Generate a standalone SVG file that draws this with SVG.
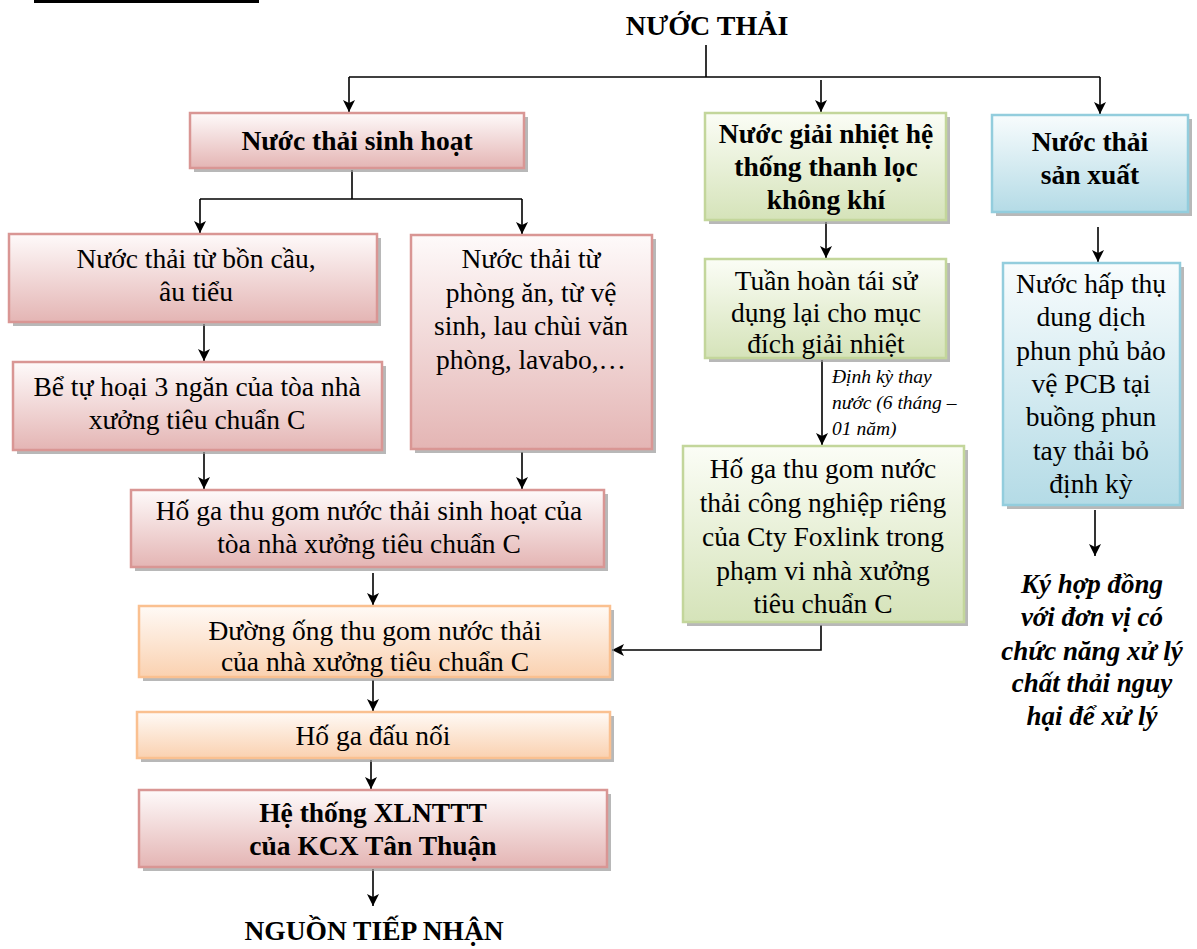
<svg xmlns="http://www.w3.org/2000/svg" width="1197" height="949" viewBox="0 0 1197 949">
<defs>
<linearGradient id="gPink" x1="0" y1="0" x2="0" y2="1"><stop offset="0" stop-color="#fefafa"/><stop offset="1" stop-color="#e4b5b4"/></linearGradient>
<linearGradient id="gGreen" x1="0" y1="0" x2="0" y2="1"><stop offset="0" stop-color="#fbfdf6"/><stop offset="1" stop-color="#d5e3b9"/></linearGradient>
<linearGradient id="gBlue" x1="0" y1="0" x2="0" y2="1"><stop offset="0" stop-color="#f8fcfd"/><stop offset="1" stop-color="#b4dbe6"/></linearGradient>
<linearGradient id="gOrange" x1="0" y1="0" x2="0" y2="1"><stop offset="0" stop-color="#fffaf6"/><stop offset="1" stop-color="#fad1b0"/></linearGradient>
<marker id="arr" markerUnits="userSpaceOnUse" markerWidth="13" markerHeight="12" refX="12" refY="6" orient="auto">
<path d="M0,0 L12,6 L0,12 L3,6 z" fill="#000"/>
</marker>
<style>
.t{font-family:"Liberation Serif","Times New Roman",serif;font-size:27.5px;fill:#000;text-anchor:middle}
.b{font-weight:bold}
.bi{font-weight:bold;font-style:italic;font-size:27px}
.ttl{font-size:28px}
.lab{font-family:"Liberation Serif","Times New Roman",serif;font-size:19.5px;font-style:italic;fill:#000}
.sh{fill:#9a9a9a;opacity:0.7}
.pink{fill:url(#gPink);stroke:#d99694;stroke-width:2.5}
.green{fill:url(#gGreen);stroke:#c3d69b;stroke-width:2.5}
.blue{fill:url(#gBlue);stroke:#93cddd;stroke-width:2.5}
.orange{fill:url(#gOrange);stroke:#fac090;stroke-width:2.5}
.c{fill:none;stroke:#000;stroke-width:1.6}
.ca{fill:none;stroke:#000;stroke-width:1.6;marker-end:url(#arr)}
</style>
</defs>
<rect x="34" y="0" width="225" height="3" fill="#000"/>

<g id="connectors">
<path class="c" d="M706,45 V77"/>
<path class="c" d="M349,77 H1100"/>
<path class="ca" d="M349,77 V112"/>
<path class="ca" d="M821,80 V112"/>
<path class="ca" d="M1100,77 V114"/>
<path class="c" d="M352,170 V199"/>
<path class="c" d="M200,199 H522"/>
<path class="ca" d="M200,199 V233"/>
<path class="ca" d="M522,199 V234"/>
<path class="ca" d="M826,222 V258"/>
<path class="ca" d="M1098,227 V262"/>
<path class="ca" d="M204,324 V361"/>
<path class="ca" d="M204,452 V489"/>
<path class="ca" d="M522,452 V489"/>
<path class="ca" d="M822,360 V445"/>
<path class="ca" d="M373,573 V605"/>
<path class="ca" d="M821,625 V650 H612"/>
<path class="ca" d="M373,680 V711"/>
<path class="ca" d="M371,760 V789"/>
<path class="ca" d="M373,869 V906"/>
<path class="ca" d="M1095,510 V556"/>
<text class="lab" x="832" y="383">Định kỳ thay</text>
<text class="lab" x="832" y="409">nước (6 tháng –</text>
<text class="lab" x="832" y="435">01 năm)</text>
</g>

<g id="title"><text class="t b ttl" x="707" y="35">NƯỚC THẢI</text></g>

<g id="n_sinhhoat">
<rect class="sh" x="194" y="117" width="334" height="55"/>
<rect class="pink" x="190" y="113" width="334" height="55"/>
<text class="t b" x="357" y="150">Nước thải sinh hoạt</text>
</g>

<g id="n_giainhiet">
<rect class="sh" x="709" y="117" width="241" height="107"/>
<rect class="green" x="705" y="113" width="241" height="107"/>
<text class="t b" x="826" y="143">Nước giải nhiệt hệ</text>
<text class="t b" x="826" y="176">thống thanh lọc</text>
<text class="t b" x="826" y="209">không khí</text>
</g>

<g id="n_sanxuat">
<rect class="sh" x="996" y="119" width="196" height="97"/>
<rect class="blue" x="992" y="115" width="196" height="97"/>
<text class="t b" x="1090" y="151">Nước thải</text>
<text class="t b" x="1090" y="184">sản xuất</text>
</g>

<g id="n_boncau">
<rect class="sh" x="13" y="238" width="368" height="88"/>
<rect class="pink" x="9" y="234" width="368" height="88"/>
<text class="t" x="196" y="268">Nước thải từ bồn cầu,</text>
<text class="t" x="196" y="301">âu tiểu</text>
</g>

<g id="n_phongan">
<rect class="sh" x="415" y="239" width="241" height="214"/>
<rect class="pink" x="411" y="235" width="241" height="214"/>
<text class="t" x="531" y="268">Nước thải từ</text>
<text class="t" x="531" y="302">phòng ăn, từ vệ</text>
<text class="t" x="531" y="335">sinh, lau chùi văn</text>
<text class="t" x="531" y="369">phòng, lavabo,…</text>
</g>

<g id="n_betuhoai">
<rect class="sh" x="17" y="366" width="369" height="88"/>
<rect class="pink" x="13" y="362" width="369" height="88"/>
<text class="t" x="197" y="396">Bể tự hoại 3 ngăn của tòa nhà</text>
<text class="t" x="197" y="429">xưởng tiêu chuẩn C</text>
</g>

<g id="n_tuanhoan">
<rect class="sh" x="709" y="263" width="241" height="99"/>
<rect class="green" x="705" y="259" width="241" height="99"/>
<text class="t" x="826" y="290">Tuần hoàn tái sử</text>
<text class="t" x="826" y="322">dụng lại cho mục</text>
<text class="t" x="826" y="353">đích giải nhiệt</text>
</g>

<g id="n_foxlink">
<rect class="sh" x="687" y="450" width="281" height="176"/>
<rect class="green" x="683" y="446" width="281" height="176"/>
<text class="t" x="823" y="478">Hố ga thu gom nước</text>
<text class="t" x="823" y="512">thải công nghiệp riêng</text>
<text class="t" x="823" y="546">của Cty Foxlink trong</text>
<text class="t" x="823" y="580">phạm vi nhà xưởng</text>
<text class="t" x="823" y="613">tiêu chuẩn C</text>
</g>

<g id="n_hapthu">
<rect class="sh" x="1007" y="267" width="177" height="242"/>
<rect class="blue" x="1003" y="263" width="177" height="242"/>
<text class="t" x="1091" y="293">Nước hấp thụ</text>
<text class="t" x="1091" y="326">dung dịch</text>
<text class="t" x="1091" y="360">phun phủ bảo</text>
<text class="t" x="1091" y="393">vệ PCB tại</text>
<text class="t" x="1091" y="426">buồng phun</text>
<text class="t" x="1091" y="460">tay thải bỏ</text>
<text class="t" x="1091" y="493">định kỳ</text>
</g>

<g id="n_kyhopdong">
<text class="t bi" x="1092" y="593">Ký hợp đồng</text>
<text class="t bi" x="1092" y="626">với đơn vị có</text>
<text class="t bi" x="1092" y="660">chức năng xử lý</text>
<text class="t bi" x="1092" y="692">chất thải nguy</text>
<text class="t bi" x="1092" y="725">hại để xử lý</text>
</g>

<g id="n_hoga_sh">
<rect class="sh" x="135" y="494" width="473" height="77"/>
<rect class="pink" x="131" y="490" width="473" height="77"/>
<text class="t" x="369" y="520">Hố ga thu gom nước thải sinh hoạt của</text>
<text class="t" x="369" y="553">tòa nhà xưởng tiêu chuẩn C</text>
</g>

<g id="n_duongong">
<rect class="sh" x="143" y="610" width="471" height="71"/>
<rect class="orange" x="139" y="606" width="471" height="71"/>
<text class="t" x="375" y="640">Đường ống thu gom nước thải</text>
<text class="t" x="375" y="671">của nhà xưởng tiêu chuẩn C</text>
</g>

<g id="n_daunoi">
<rect class="sh" x="141" y="716" width="473" height="46"/>
<rect class="orange" x="137" y="712" width="473" height="46"/>
<text class="t" x="373" y="745">Hố ga đấu nối</text>
</g>

<g id="n_xlnttt">
<rect class="sh" x="143" y="794" width="468" height="77"/>
<rect class="pink" x="139" y="790" width="468" height="77"/>
<text class="t b" x="373" y="822">Hệ thống XLNTTT</text>
<text class="t b" x="373" y="855">của KCX Tân Thuận</text>
</g>

<g id="n_nguon"><text class="t b" x="374" y="940">NGUỒN TIẾP NHẬN</text></g>
</svg>
